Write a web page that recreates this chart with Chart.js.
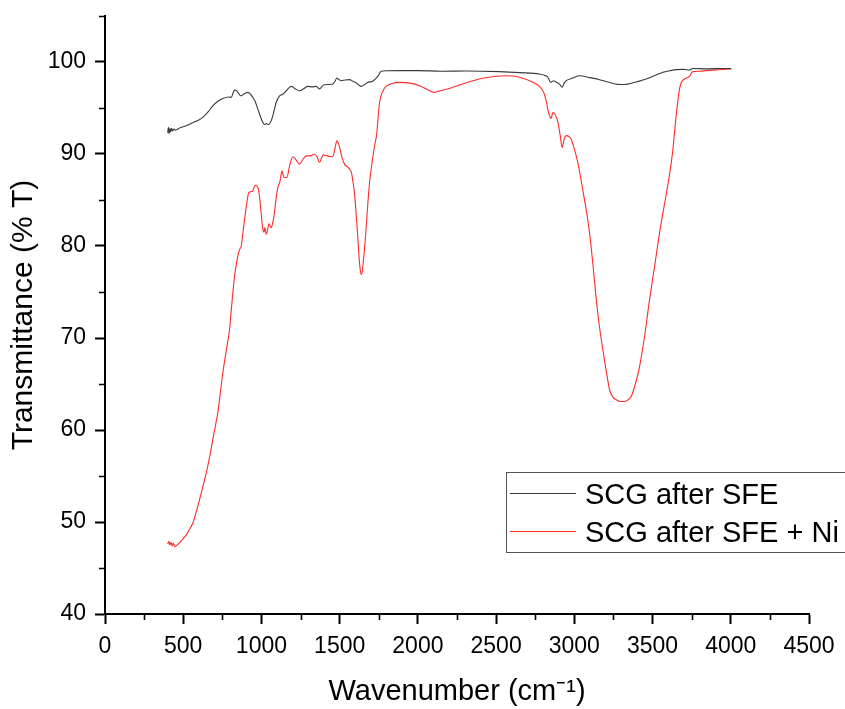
<!DOCTYPE html>
<html>
<head>
<meta charset="utf-8">
<script src="https://cdn.jsdelivr.net/npm/chart.js@4.4.1/dist/chart.umd.min.js"></script>
<style>
  html, body { margin: 0; padding: 0; background: #ffffff; }
  #wrap { width: 845px; height: 709px; }
</style>
</head>
<body>
<div id="wrap"><canvas id="c" width="845" height="709"></canvas></div>
<script>
// ---------- DATA ----------
const seriesNames = ["SCG after SFE", "SCG after SFE + Ni"];

const blackWn = [401,405,410,415,420,426,432,440,450,480,519,560,600,625,660,689,720,753,790,807,818,828,840,849,860,870,890,913,930,945,960,977,995,1009,1020,1030,1045,1062,1078,1094,1115,1137,1160,1190,1215,1243,1270,1296,1325,1350,1371,1385,1403,1430,1456,1470,1482,1495,1510,1535,1563,1585,1606,1625,1638,1660,1680,1710,1734,1750,1765,1800,1883,2010,2150,2309,2522,2650,2777,2810,2831,2845,2852,2863,2873,2885,2895,2910,2922,2935,2948,2990,3033,3100,3161,3220,3278,3320,3353,3400,3459,3510,3566,3610,3651,3700,3736,3757,3850,3930,4003];
const blackT = [92.3,92.9,92.2,92.8,92.4,92.8,92.5,92.7,92.6,92.85,93.07,93.4,93.7,93.98,94.6,95.24,95.7,96.04,96.2,96.15,96.6,96.95,96.9,96.7,96.45,96.33,96.55,96.7,96.5,96.15,95.7,94.88,94.0,93.43,93.2,93.3,93.2,93.6,94.5,95.6,96.3,96.5,96.9,97.35,97.1,96.88,97.1,97.35,97.3,97.35,97.06,97.3,97.53,97.55,97.6,97.9,98.26,98.1,97.97,98.05,98.08,97.9,97.72,97.45,97.35,97.55,97.79,97.9,98.26,98.6,98.99,99.05,99.06,99.06,99.0,99.02,98.95,98.85,98.7,98.55,98.34,97.85,97.79,97.93,97.93,97.8,97.72,97.5,97.25,97.7,97.97,98.25,98.5,98.3,98.08,97.8,97.57,97.55,97.64,97.85,98.15,98.5,98.88,99.05,99.17,99.2,99.13,99.3,99.25,99.3,99.3];

const redWn = [401,408,415,422,430,437,445,455,480,500,519,540,561,580,604,625,647,668,689,705,721,737,753,775,796,807,817,832,849,860,871,882,892,905,919,932,945,955,966,975,983,996,1009,1016,1022,1030,1040,1047,1055,1062,1073,1083,1094,1105,1118,1132,1140,1147,1162,1180,1200,1220,1243,1265,1286,1310,1339,1355,1371,1385,1397,1420,1456,1470,1482,1493,1503,1515,1531,1550,1563,1575,1584,1596,1606,1615,1622,1630,1638,1645,1652,1662,1670,1680,1691,1708,1723,1737,1745,1755,1775,1797,1840,1883,1950,2010,2060,2106,2150,2202,2300,2415,2500,2565,2650,2735,2780,2809,2822,2831,2845,2852,2860,2867,2880,2895,2910,2922,2935,2948,2965,2980,3001,3022,3040,3060,3080,3097,3120,3140,3160,3182,3205,3225,3245,3268,3295,3321,3345,3364,3390,3417,3450,3481,3515,3545,3587,3615,3630,3640,3655,3672,3688,3704,3736,3757,3800,3843,3920,4003];
const redT = [47.6,47.9,47.5,47.8,47.4,47.7,47.3,47.4,47.8,48.2,48.6,49.2,49.87,50.9,52.4,53.8,55.3,57.0,58.95,60.4,61.86,64.0,66.2,68.6,70.9,73.0,74.9,77.2,78.9,79.6,80.0,81.5,82.9,84.5,85.8,85.9,86.0,86.5,86.6,86.4,86.0,84.0,81.8,81.5,82.0,81.27,81.8,82.4,82.2,82.0,82.6,83.6,85.2,86.36,87.0,88.17,87.6,87.45,87.45,88.7,89.7,89.4,88.9,89.4,89.8,89.8,89.98,89.7,89.08,89.6,89.9,89.8,89.7,90.6,91.43,91.1,90.5,89.6,88.9,88.6,88.35,88.0,87.1,85.5,83.3,81.2,79.3,77.6,76.9,77.3,78.5,80.3,82.2,84.6,86.9,89.2,90.9,92.2,93.8,95.6,96.8,97.35,97.7,97.79,97.7,97.42,97.0,96.7,96.9,97.13,97.7,98.23,98.45,98.51,98.35,97.79,97.3,96.5,95.6,94.8,94.0,93.87,94.4,94.5,94.2,93.44,92.0,90.7,91.6,92.0,91.9,91.6,90.5,89.08,87.5,85.5,83.5,81.46,77.8,74.2,71.3,68.75,66.3,64.4,63.6,63.3,63.1,63.1,63.3,63.66,65.0,66.9,70.3,74.2,78.0,81.46,85.6,88.5,90.5,92.3,94.8,97.06,97.9,98.15,98.44,98.95,99.0,99.06,99.15,99.24];

const xTicks = [0,500,1000,1500,2000,2500,3000,3500,4000,4500];
const xMinorTicks = [250,750,1250,1750,2250,2750,3250,3750,4250];
const yTicks = [40,50,60,70,80,90,100];
const yMinorTicks = [45,55,65,75,85,95,105];

const xTitle = "Wavenumber (cm\u207B\u00B9)";
const yTitle = "Transmittance (% T)";

// ---------- CHART ----------
const FONT = "Arial, 'Liberation Sans', sans-serif";

const toPts = (xs, ys) => xs.map((x, i) => ({ x: x, y: ys[i] }));

const minorTicksPlugin = {
  id: 'minorTicks',
  afterDraw(chart) {
    const ctx = chart.ctx;
    const xs = chart.scales.x, ys = chart.scales.y;
    ctx.save();
    ctx.strokeStyle = '#000';
    ctx.lineWidth = 1.6;
    ctx.beginPath();
    xMinorTicks.forEach(v => {
      const px = Math.round(xs.getPixelForValue(v)) + 0.5;
      ctx.moveTo(px, xs.top);
      ctx.lineTo(px, xs.top + 6);
    });
    yMinorTicks.forEach(v => {
      const py = Math.round(ys.getPixelForValue(v)) + 0.5;
      ctx.moveTo(ys.right, py);
      ctx.lineTo(ys.right - 6, py);
    });
    ctx.stroke();
    ctx.restore();
  }
};

const legendBoxPlugin = {
  id: 'legendBox',
  afterDraw(chart) {
    const ctx = chart.ctx;
    const bx = 506.5, by = 472.5, bw = 345, bh = 80;
    ctx.save();
    ctx.fillStyle = '#ffffff';
    ctx.fillRect(bx, by, bw, bh);
    ctx.strokeStyle = '#555';
    ctx.lineWidth = 1;
    ctx.strokeRect(bx, by, bw, bh);
    ctx.font = "29px " + FONT;
    ctx.textBaseline = 'alphabetic';
    ctx.textAlign = 'left';
    const rows = [493.5, 531.5];
    chart.data.datasets.forEach((ds, i) => {
      ctx.strokeStyle = ds.borderColor;
      ctx.lineWidth = 1;
      ctx.beginPath();
      ctx.moveTo(510, rows[i]);
      ctx.lineTo(576, rows[i]);
      ctx.stroke();
      ctx.fillStyle = '#000';
      ctx.fillText(ds.label, 585, rows[i] + 10);
    });
    ctx.restore();
  }
};

new Chart(document.getElementById('c'), {
  type: 'line',
  data: {
    datasets: [
      {
        label: seriesNames[0],
        data: toPts(blackWn, blackT),
        borderColor: '#3a3a3a',
        borderWidth: 1.1,
        pointRadius: 0,
        cubicInterpolationMode: 'monotone',
        fill: false
      },
      {
        label: seriesNames[1],
        data: toPts(redWn, redT),
        borderColor: '#ff2a2a',
        borderWidth: 1.1,
        pointRadius: 0,
        cubicInterpolationMode: 'monotone',
        fill: false
      }
    ]
  },
  options: {
    responsive: false,
    devicePixelRatio: 1,
    animation: false,
    layout: { padding: { top: 16, right: 36, left: 0, bottom: 0 } },
    plugins: {
      legend: { display: false },
      tooltip: { enabled: false }
    },
    scales: {
      x: {
        type: 'linear',
        min: 0,
        max: 4500,
        afterFit(s) { s.height = 95; s.paddingLeft = 0; s.paddingRight = 0; },
        afterBuildTicks(s) { s.ticks = xTicks.map(v => ({ value: v })); },
        ticks: {
          color: '#000',
          font: { family: FONT, size: 23 },
          padding: 9,
          maxRotation: 0,
          autoSkip: false,
          callback: v => String(v)
        },
        grid: {
          drawOnChartArea: false,
          drawTicks: true,
          tickLength: 10,
          tickColor: '#000',
          tickWidth: 2
        },
        border: { display: true, color: '#000', width: 2 },
        title: {
          display: true,
          text: xTitle,
          color: '#000',
          font: { family: FONT, size: 29 },
          padding: { top: 0, bottom: 0 }
        }
      },
      y: {
        type: 'linear',
        min: 40,
        max: 105,
        afterFit(s) { s.width = 105; s.paddingTop = 0; s.paddingBottom = 0; },
        afterBuildTicks(s) { s.ticks = yTicks.map(v => ({ value: v })); },
        ticks: {
          color: '#000',
          font: { family: FONT, size: 23 },
          padding: 9,
          autoSkip: false,
          callback: v => String(v)
        },
        grid: {
          drawOnChartArea: false,
          drawTicks: true,
          tickLength: 10,
          tickColor: '#000',
          tickWidth: 2
        },
        border: { display: true, color: '#000', width: 2 },
        title: {
          display: true,
          text: yTitle,
          color: '#000',
          font: { family: FONT, size: 30 },
          padding: { top: 6, bottom: 0 }
        }
      }
    }
  },
  plugins: [minorTicksPlugin, legendBoxPlugin]
});
</script>
</body>
</html>
